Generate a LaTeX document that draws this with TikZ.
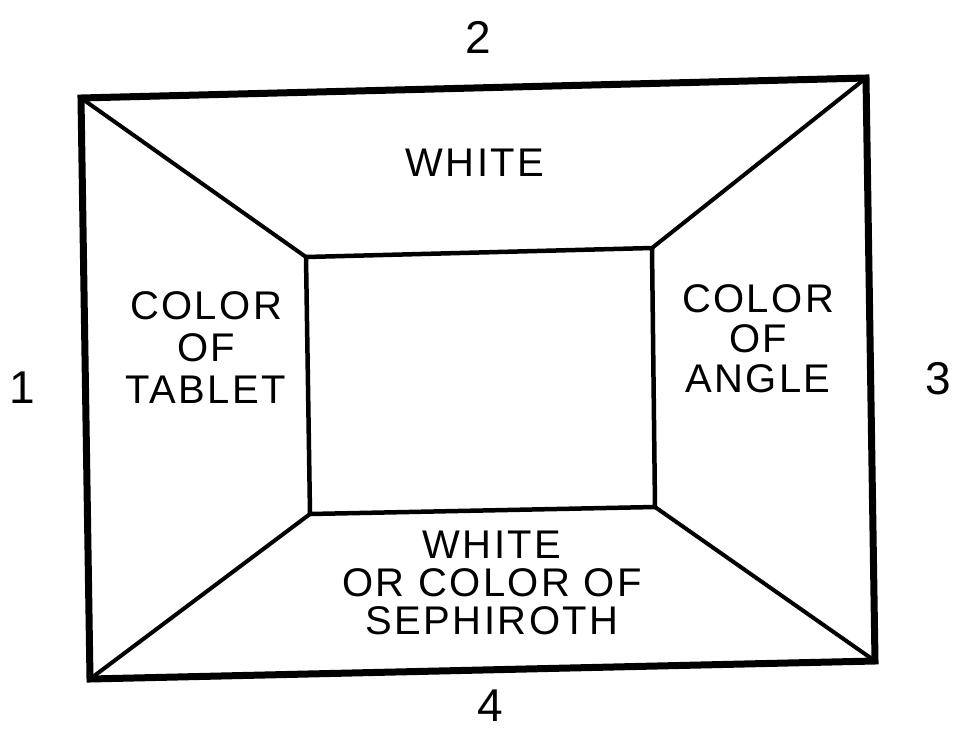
\documentclass[tikz,border=0pt]{standalone}
\usepackage{fontspec}
\setmainfont{Liberation Sans}
\newfontfamily\lbl[LetterSpace=6]{Liberation Sans}
\begin{document}
\begin{tikzpicture}[x=1pt,y=-1pt,
  outer/.style={line width=7pt,line join=miter},
  inner/.style={line width=4.5pt,line join=miter},
  diag/.style={line width=4pt,line cap=round},
  word/.style={font=\lbl\fontsize{40}{42}\selectfont,align=center,inner sep=0pt},
  num/.style={font=\fontsize{46}{48}\selectfont,inner sep=0pt}]
\useasboundingbox (0,0) rectangle (959,734);
\coordinate (OTL) at (81,98);
\coordinate (OTR) at (866,78);
\coordinate (OBR) at (875,661);
\coordinate (OBL) at (90,679);
\coordinate (ITL) at (306,257);
\coordinate (ITR) at (652,248);
\coordinate (IBR) at (655,507);
\coordinate (IBL) at (310,514);
\draw[diag] (OTL) -- (ITL);
\draw[diag] (OTR) -- (ITR);
\draw[diag] (OBR) -- (IBR);
\draw[diag] (OBL) -- (IBL);
\draw[inner] (ITL) -- (ITR) -- (IBR) -- (IBL) -- cycle;
\draw[outer] (OTL) -- (OTR) -- (OBR) -- (OBL) -- cycle;
\node[word] (top) at (475,163) {WHITE};
\node[word] (left) at (206,348) {COLOR\\[0pt]OF\\[0pt]TABLET};
\node[word] (right) at (758,339) {COLOR\\[-2pt]OF\\[-2pt]ANGLE};
\node[word,font=\lbl\fontsize{40}{38}\selectfont] (bottom) at (492,583) {WHITE\\OR COLOR OF\\SEPHIROTH};
\node[num] (n2) at (478,37) {2};
\node[num] (n1) at (22,388) {1};
\node[num] (n3) at (938,379) {3};
\node[num] (n4) at (490,706) {4};
\end{tikzpicture}
\end{document}
